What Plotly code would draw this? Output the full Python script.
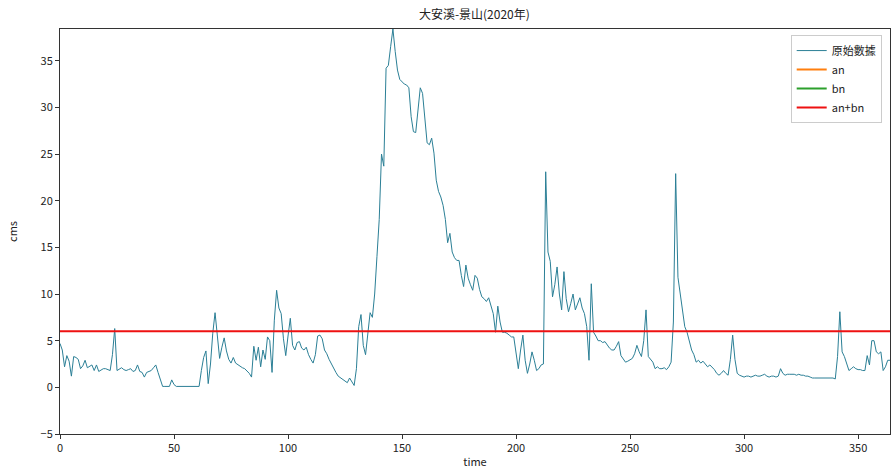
import plotly.graph_objects as go

days = list(range(365))

flow = [
    4.7, 4.0, 2.2, 3.4, 2.8, 1.2, 3.3, 3.2, 3.0, 2.0,
    2.3, 2.9, 2.1, 2.3, 2.4, 1.8, 2.4, 1.7, 1.9, 2.0,
    2.0, 1.9, 1.8, 3.5, 6.3, 1.8, 2.0, 2.1, 1.9, 1.8,
    1.9, 2.0, 1.7, 1.8, 2.4, 1.7, 1.6, 1.1, 1.6, 1.7,
    1.8, 2.1, 2.4, 1.6, 0.7, 0.1, 0.1, 0.1, 0.1, 0.8,
    0.3, 0.1, 0.1, 0.1, 0.1, 0.1, 0.1, 0.1, 0.1, 0.1,
    0.1, 0.1, 1.8, 3.2, 3.9, 0.4, 2.5, 5.8, 8.0, 5.5,
    3.1, 4.3, 5.3, 3.9, 3.0, 2.6, 3.2, 2.6, 2.4, 2.3,
    2.1, 2.0, 1.8, 1.5, 1.1, 4.4, 2.9, 4.3, 2.2, 4.0,
    3.0, 5.4, 5.0, 1.6, 7.2, 10.4, 8.5, 7.9, 5.2, 3.4,
    5.5, 7.4, 4.5, 4.0, 4.8, 4.9, 4.2, 4.0, 4.3, 3.5,
    3.0, 2.6, 3.5, 5.5, 5.6, 5.2, 4.0, 3.6, 3.0, 2.5,
    2.0, 1.6, 1.2, 1.0, 0.9, 0.6, 0.5, 1.0, 0.6, 0.2,
    2.0, 6.5, 7.8, 4.5, 3.5, 6.0, 8.0, 7.5, 10.0, 14.0,
    18.0, 25.0, 23.7, 34.2, 34.5, 36.5, 38.4, 36.0, 34.0, 33.0,
    32.7, 32.5, 32.4, 32.1, 29.0, 27.4, 27.3, 30.0, 32.1, 31.5,
    28.5, 26.2, 26.0, 26.7, 25.1, 22.2, 21.0, 20.4, 19.5, 18.0,
    15.5, 16.5, 14.5, 13.9, 13.6, 13.6, 12.0, 10.8, 13.1, 11.7,
    11.0, 10.4, 12.0, 11.7, 10.5, 9.7, 9.5, 9.2, 9.6, 8.8,
    7.9, 5.9, 8.7, 7.0, 5.9, 5.9, 5.8, 5.6, 5.4, 5.4,
    3.5, 2.0, 4.0, 5.6, 2.9, 1.5, 2.5, 3.8, 2.9, 1.8,
    2.0, 2.4, 2.5, 23.1, 14.5, 13.5, 9.7, 11.0, 12.9, 10.0,
    8.3, 12.4, 9.5, 8.1, 9.0, 10.0, 8.3, 9.0, 9.6, 8.5,
    7.9, 6.5, 2.9, 11.1, 5.9, 5.5, 5.0, 5.0, 4.8, 4.9,
    4.5, 4.2, 4.0, 4.0, 4.4, 4.9, 3.4, 3.0, 2.7, 2.8,
    3.0, 3.1, 3.6, 4.5, 3.8, 3.3, 5.0, 8.3, 3.3, 3.0,
    2.7, 2.0, 2.2, 2.0, 2.0, 2.1, 1.9, 2.2, 2.7, 7.0,
    22.9, 11.8, 10.0, 8.3, 6.5, 5.9, 4.8, 4.0, 3.5, 2.7,
    2.9, 2.6, 2.8, 2.5, 2.2, 2.4, 2.2, 1.9, 1.5, 1.3,
    1.5, 1.8, 1.5, 1.3, 3.0, 5.6, 3.0, 1.5, 1.3, 1.2,
    1.1, 1.2, 1.2, 1.1, 1.2, 1.3, 1.2, 1.2, 1.3, 1.4,
    1.2, 1.1, 1.2, 1.2, 1.1, 1.2, 2.0, 1.5, 1.3, 1.4,
    1.4, 1.4, 1.4, 1.3, 1.4, 1.3, 1.3, 1.2, 1.2, 1.1,
    1.0, 1.0, 1.0, 1.0, 1.0, 1.0, 1.0, 1.0, 1.0, 1.0,
    0.9, 3.3, 8.1, 3.8, 3.3, 2.5, 1.8, 2.0, 2.2, 2.0,
    1.9, 1.9, 1.8, 1.8, 3.4, 2.4, 5.0, 5.0, 3.8, 3.6,
    3.8, 1.8, 2.2, 2.9, 2.9,
]

an_bn_level = 6.0

series_names = ["原始數據", "an", "bn", "an+bn"]
x_ticks = [0, 50, 100, 150, 200, 250, 300, 350]
y_ticks = [-5, 0, 5, 10, 15, 20, 25, 30, 35]

FONT = "Noto Sans CJK TC"

fig = go.Figure()
fig.add_trace(go.Scatter(x=days, y=flow, mode="lines", name=series_names[0],
                         line=dict(color="#2b7f96", width=1)))
fig.add_trace(go.Scatter(x=[None], y=[None], mode="lines", name=series_names[1],
                         line=dict(color="#ff7f0e", width=2)))
fig.add_trace(go.Scatter(x=[None], y=[None], mode="lines", name=series_names[2],
                         line=dict(color="#2ca02c", width=2)))
fig.add_trace(go.Scatter(x=days, y=[an_bn_level] * len(days), mode="lines",
                         name=series_names[3], line=dict(color="#ee1111", width=2)))

axis_common = dict(showgrid=False, zeroline=False, showline=True, linecolor="#333",
                   linewidth=1, mirror=True, ticks="outside", ticklen=4,
                   tickcolor="#333", tickfont=dict(family=FONT, size=11, color="#222"))

fig.update_layout(
    width=895, height=473,
    margin=dict(l=60, r=5, t=29, b=39),
    paper_bgcolor="white", plot_bgcolor="white",
    font=dict(family=FONT, size=11, color="#222"),
    title=dict(text="大安溪-景山(2020年)", x=0.53, xanchor="center", y=1 - 15 / 473,
               yanchor="middle", font=dict(family=FONT, size=12, color="#222")),
    legend=dict(x=0.99, y=0.985, xanchor="right", yanchor="top",
                bordercolor="#cccccc", borderwidth=1, bgcolor="rgba(255,255,255,0.8)",
                font=dict(family=FONT, size=11), tracegroupgap=0),
    showlegend=True,
)
fig.update_xaxes(range=[0, 364], tickvals=x_ticks,
                 title=dict(text="time", standoff=4, font=dict(family=FONT, size=11)),
                 **axis_common)
fig.update_yaxes(range=[-5, 38.4], tickvals=y_ticks,
                 title=dict(text="cms", standoff=20, font=dict(family=FONT, size=11)),
                 **axis_common)

fig.write_html("out.html",
               config={"displayModeBar": False},
               post_script="document.body.style.margin='0';document.body.style.overflow='hidden';")
